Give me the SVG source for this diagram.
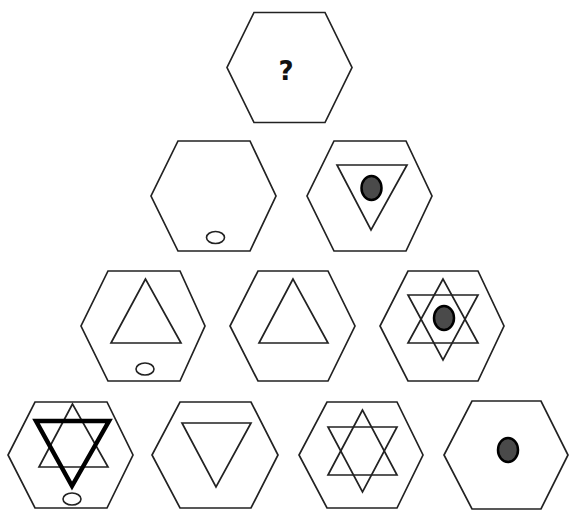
<svg xmlns="http://www.w3.org/2000/svg" width="569" height="510" viewBox="0 0 569 510">
<style>
.hex{fill:#fff;stroke:#222;stroke-width:1.7;stroke-linejoin:miter}
.tri{fill:none;stroke:#222;stroke-width:1.7}
.bold{fill:none;stroke:#000;stroke-width:4.5;stroke-linejoin:miter}
.ring{fill:#fff;stroke:#222;stroke-width:1.6}
.dot{fill:#4a4a4a;stroke:#000;stroke-width:2.5}
.q{font-family:"DejaVu Sans",sans-serif;font-weight:bold;font-size:26px;fill:#111}
</style>
<rect width="569" height="510" fill="#fff"/>
<g id="cell-top">
<polygon class="hex" points="254,12.5 325,12.5 352,67.5 325,122.5 254,122.5 227,67.5"/>
<text class="q" x="286" y="80" text-anchor="middle">?</text>
</g>
<g id="cell-r2c1">
<polygon class="hex" points="178,141 250,141 276,196 250,251 178,251 151,196"/>
<ellipse class="ring" cx="215.5" cy="237.5" rx="9" ry="6"/>
</g>
<g id="cell-r2c2">
<polygon class="hex" points="334,141 406,141 432,196 406,251 334,251 307,196"/>
<polygon class="tri" points="337,165 407,165 371,230"/>
<ellipse class="dot" cx="371.5" cy="188" rx="10" ry="12"/>
</g>
<g id="cell-r3c1">
<polygon class="hex" points="108,271 180,271 205,326 180,381 108,381 81,326"/>
<polygon class="tri" points="145.5,279 111,343 181,343"/>
<ellipse class="ring" cx="145" cy="369" rx="9" ry="6"/>
</g>
<g id="cell-r3c2">
<polygon class="hex" points="258,271 328,271 355,326 328,381 258,381 230,326"/>
<polygon class="tri" points="293,279 259,343 328,343"/>
</g>
<g id="cell-r3c3">
<polygon class="hex" points="408,271 478,271 504,326 478,381 408,381 380,326"/>
<polygon class="tri" points="443,279 408,343 478,343"/>
<polygon class="tri" points="408,295 478,295 443,360"/>
<ellipse class="dot" cx="444" cy="318" rx="10" ry="12"/>
</g>
<g id="cell-r4c1">
<polygon class="hex" points="35,402 107,402 133,455 107,508 35,508 8,455"/>
<polygon class="tri" points="72.5,404 39,467 108,467"/>
<polygon class="bold" points="36,421 109,421 72,486"/>
<ellipse class="ring" cx="72" cy="499" rx="9" ry="6"/>
</g>
<g id="cell-r4c2">
<polygon class="hex" points="180,402 251,402 278,455 251,508 180,508 152,455"/>
<polygon class="tri" points="182,423 251,423 216,487"/>
</g>
<g id="cell-r4c3">
<polygon class="hex" points="327,402 397,402 423,455 397,508 327,508 299,455"/>
<polygon class="tri" points="362.5,410 328,475 397,475"/>
<polygon class="tri" points="328,427 397,427 362.5,492"/>
</g>
<g id="cell-r4c4">
<polygon class="hex" points="472,401 541,401 568,455 541,509 472,509 444,455"/>
<ellipse class="dot" cx="508" cy="450" rx="10" ry="12"/>
</g>
<g id="connectors"/>
</svg>
